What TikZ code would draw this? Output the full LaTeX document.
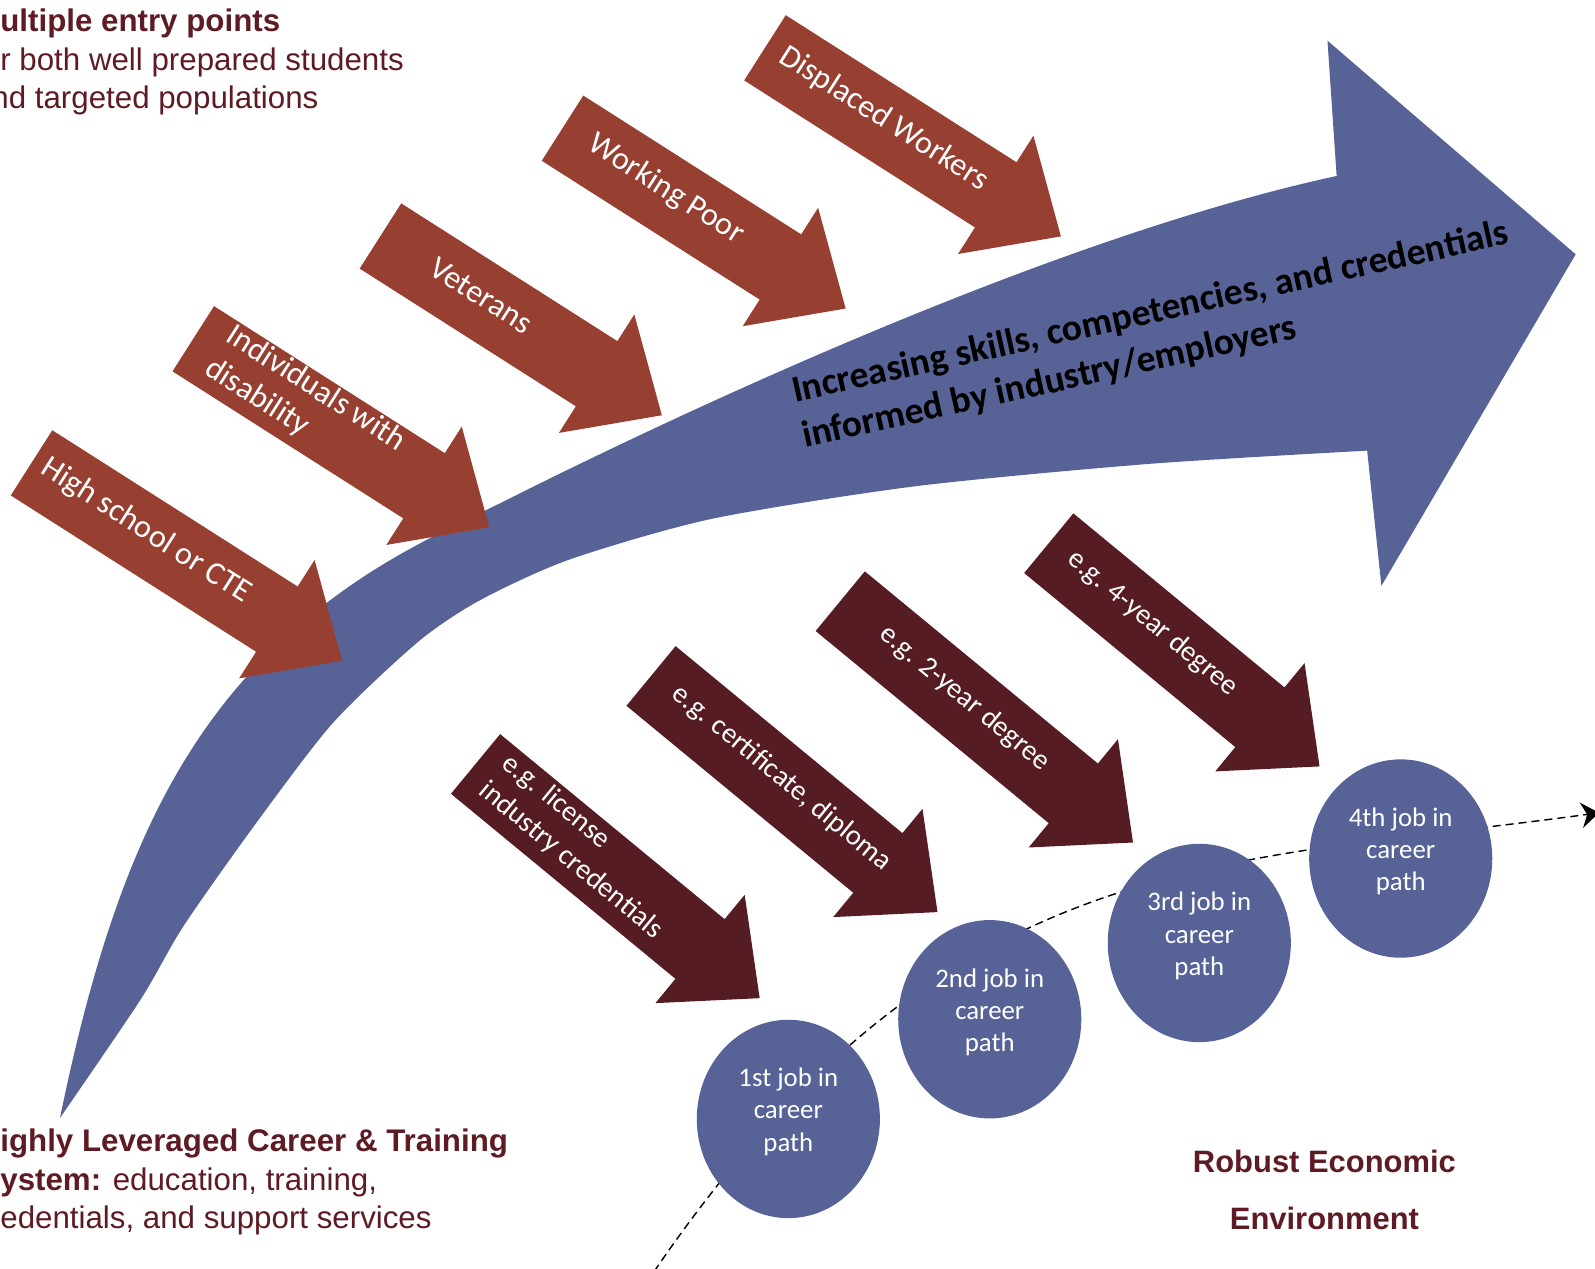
\documentclass[tikz,border=0pt]{standalone}
\usepackage{fontspec}
\setmainfont{Carlito}
\newfontfamily\captionfont{Liberation Sans}
\usetikzlibrary
  {
    arrows.meta,      % stealth tip on the career path
    shapes.geometric, % ellipses for the jobs
  }

\definecolor{entryred}{RGB}{151,64,50}
\definecolor{credentialred}{RGB}{86,28,35}
\definecolor{jobblue}{RGB}{87,99,150}
\definecolor{captionred}{RGB}{94,27,35}

% block arrow: style, name, tail, angle, length, text position, text
\newcommand\blockarrow[7]
  {
    \begin{scope}[shift={#3},rotate=#4]
      \fill[#1] (0,-38) -- (#5-76,-38) -- (#5-76,-69) -- (#5,0)
        -- (#5-76,69) -- (#5-76,38) -- (0,38) -- cycle;
      \node[#1 text,transform shape] (#2) at (#6,-4) {#7};
    \end{scope}
  }

\begin{document}
\begin{tikzpicture}
    [
      x=0.2mm,
      y=-0.2mm,
      growth/.style=
        {
          fill=jobblue,
        },
      growth text/.style=
        {
          font=\fontsize{21}{26}\selectfont\bfseries,
          align=left,
          inner sep=0pt,
        },
      entry/.style=
        {
          fill=entryred,
        },
      entry text/.style=
        {
          text=white,
          font=\fontsize{18}{22}\selectfont,
          align=left,
          inner sep=0pt,
        },
      credential/.style=
        {
          fill=credentialred,
        },
      credential text/.style=
        {
          text=white,
          font=\fontsize{16}{20}\selectfont,
          align=left,
          inner sep=0pt,
        },
      job/.style=
        {
          ellipse,
          fill=jobblue,
          minimum width=36mm,
          minimum height=39mm,
          inner sep=0pt,
        },
      job text/.style=
        {
          text=white,
          font=\fontsize{15}{18}\selectfont,
          align=center,
          inner sep=0pt,
          yshift=1.4mm,
        },
      career path/.style=
        {
          dash pattern=on 4.5pt off 2.8pt,
          line width=0.8pt,
          -{Stealth[length=3.5mm,width=5mm]},
        },
      caption/.style=
        {
          text=captionred,
          font=\captionfont\fontsize{17.5}{21.6}\selectfont,
          align=left,
          inner sep=0pt,
        },
    ]
    \useasboundingbox (0,0) rectangle (1568,1247);

    \fill[growth]
      (59,1099) .. controls (110,850) and (180,700) .. (322,592)
      .. controls (380,548) and (430,525) .. (491,495)
      .. controls (700,390) and (1050,230) .. (1314,173)
      -- (1305,40) -- (1549,250) -- (1358,576) -- (1344,443)
      -- plot[smooth,tension=0.45] coordinates
        {(1344,443) (1130,456) (900,478) (700,510) (560,550) (472,590)
         (411,631) (327,711) (249,813) (180,911) (138,983) (59,1099)}
      -- cycle;
    \node[growth text,rotate=12.5] (skills) at (1136,330)
      {Increasing skills, competencies, and credentials\\informed by industry/employers};

    \blockarrow{entry}{high school}{(31,455)}{-32.5}{362}{131}{High school or CTE}
    \blockarrow{entry}{disability}{(190,333)}{-32.5}{345}{128}{Individuals with\\disability}
    \blockarrow{entry}{veterans}{(374,232)}{-32.5}{328}{115}{Veterans}
    \blockarrow{entry}{working poor}{(553,126)}{-32.5}{330}{118}{Working Poor}
    \blockarrow{entry}{displaced}{(752,47)}{-32.5}{345}{136}{Displaced Workers}

    \blockarrow{credential}{license}{(467.5,751)}{-39.5}{362}{133}{e.g. license\\industry credentials}
    \blockarrow{credential}{certificate}{(640,664.5)}{-39.5}{365}{163}{e.g. certificate, diploma}
    \blockarrow{credential}{two year}{(826,591)}{-39.5}{373}{155}{e.g. 2-year degree}
    \blockarrow{credential}{four year}{(1031,534)}{-39.5}{345}{129}{e.g. 4-year degree}

    \coordinate (path start) at (643,1250);
    \coordinate (path end)   at (1572,799);
    \draw[career path] (path start) .. controls (930,830) and (1200,850) .. (path end);

    \node[job,label={[job text]center:1st job in\\career\\path}] (job 1) at ( 775,1100) {};
    \node[job,label={[job text]center:2nd job in\\career\\path}] (job 2) at ( 973,1002) {};
    \node[job,label={[job text]center:3rd job in\\career\\path}] (job 3) at (1179, 927) {};
    \node[job,label={[job text]center:4th job in\\career\\path}] (job 4) at (1377, 844) {};

    \node[caption,anchor=west] (entry points) at (0,61)
      {\textbf{ultiple entry points}\\r both well prepared students\\\hspace*{-5pt}nd targeted populations};
    \node[caption,anchor=west] (system) at (0,1162)
      {\textbf{ighly Leveraged Career \& Training}\\\textbf{ystem:} education, training,\\edentials, and support services};
    \node[caption,align=center,font=\captionfont\fontsize{17.3}{31.9}\selectfont\bfseries]
      (economy) at (1302,1170) {Robust Economic\\Environment};
  \end{tikzpicture}
\end{document}
